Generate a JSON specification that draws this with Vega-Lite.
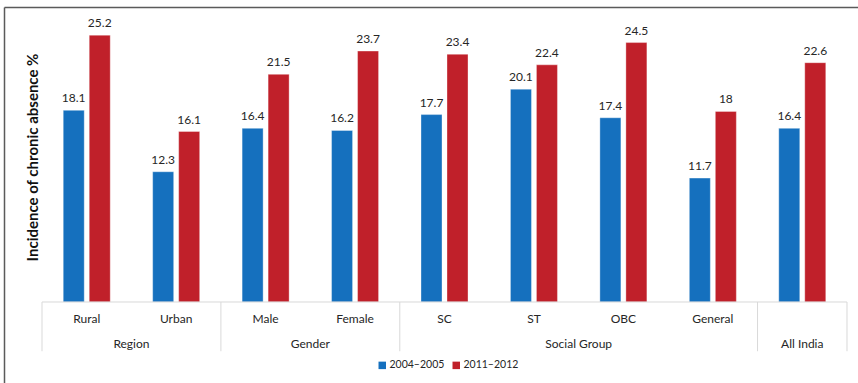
{
  "$schema": "https://vega.github.io/schema/vega-lite/v6.json",
  "autosize": {"type": "none"},
  "padding": {"left": 4, "top": 7, "right": 0, "bottom": 0},
  "width": 854,
  "height": 376,
  "background": "white",
  "config": {
    "font": "Lato",
    "view": {"stroke": null},
    "text": {"font": "Lato", "color": "#262626"}
  },
  "datasets": {
    "absence": [
      {"cat": "Rural", "group": "Region", "year": "2004–2005", "value": 18.1},
      {"cat": "Rural", "group": "Region", "year": "2011–2012", "value": 25.2},
      {"cat": "Urban", "group": "Region", "year": "2004–2005", "value": 12.3},
      {"cat": "Urban", "group": "Region", "year": "2011–2012", "value": 16.1},
      {"cat": "Male", "group": "Gender", "year": "2004–2005", "value": 16.4},
      {"cat": "Male", "group": "Gender", "year": "2011–2012", "value": 21.5},
      {"cat": "Female", "group": "Gender", "year": "2004–2005", "value": 16.2},
      {"cat": "Female", "group": "Gender", "year": "2011–2012", "value": 23.7},
      {"cat": "SC", "group": "Social Group", "year": "2004–2005", "value": 17.7},
      {"cat": "SC", "group": "Social Group", "year": "2011–2012", "value": 23.4},
      {"cat": "ST", "group": "Social Group", "year": "2004–2005", "value": 20.1},
      {"cat": "ST", "group": "Social Group", "year": "2011–2012", "value": 22.4},
      {"cat": "OBC", "group": "Social Group", "year": "2004–2005", "value": 17.4},
      {"cat": "OBC", "group": "Social Group", "year": "2011–2012", "value": 24.5},
      {"cat": "General", "group": "Social Group", "year": "2004–2005", "value": 11.7},
      {"cat": "General", "group": "Social Group", "year": "2011–2012", "value": 18},
      {"cat": "All India", "group": "All India", "year": "2004–2005", "value": 16.4},
      {"cat": "All India", "group": "All India", "year": "2011–2012", "value": 22.6}
    ],
    "groupStarts": [
      {"cat": "Rural", "group": "Region"},
      {"cat": "Male", "group": "Gender"},
      {"cat": "SC", "group": "Social Group"},
      {"cat": "All India", "group": "All India"}
    ],
    "groupLabels": [
      {"cat": "Urban", "group": "Region"},
      {"cat": "Female", "group": "Gender"},
      {"cat": "OBC", "group": "Social Group"}
    ],
    "lastGroup": [
      {"cat": "All India", "group": "All India"}
    ],
    "categorySpan": [
      {"first": "Rural", "last": "All India"}
    ]
  },
  "resolve": {"axis": {"x": "independent"}},
  "layer": [
    {
      "data": {"name": "absence"},
      "mark": {"type": "bar", "stroke": "#ffffff", "strokeOpacity": 0.35, "strokeWidth": 1},
      "encoding": {
        "x": {
          "field": "cat",
          "type": "nominal",
          "sort": null,
          "scale": {
            "domain": ["Rural", "Urban", "Male", "Female", "SC", "ST", "OBC", "General", "All India"],
            "paddingInner": 0,
            "paddingOuter": 0.274,
            "align": 0.7755
          },
          "axis": {
            "orient": "bottom",
            "offset": -81,
            "title": null,
            "labelAngle": 0,
            "ticks": false,
            "tickSize": 0,
            "domain": false,
            "grid": false,
            "labelPadding": 11,
            "labelFont": "Lato",
            "labelFontSize": 12,
            "labelColor": "#262626",
            "labelExpr": "datum.value === 'All India' ? '' : datum.label"
          }
        },
        "xOffset": {
          "field": "year",
          "type": "nominal",
          "scale": {"domain": ["2004–2005", "2011–2012"], "paddingInner": 0.192, "paddingOuter": 0.816}
        },
        "y": {
          "field": "value",
          "type": "quantitative",
          "scale": {"domain": [-7.65, 27.86], "nice": false, "zero": false},
          "axis": {
            "orient": "left",
            "title": "Incidence of chronic absence %",
            "titleFont": "Lato",
            "titleFontSize": 15,
            "titleFontWeight": "bold",
            "titleColor": "#111111",
            "titleX": 28,
            "titleY": 150,
            "titleAngle": -90,
            "titleAlign": "center",
            "titleBaseline": "middle",
            "labels": false,
            "ticks": false,
            "grid": false,
            "domain": true,
            "domainColor": "#5a5a5a",
            "domainWidth": 1.5
          }
        },
        "color": {
          "field": "year",
          "type": "nominal",
          "scale": {"domain": ["2004–2005", "2011–2012"], "range": ["#1570be", "#c0202a"]},
          "legend": {
            "title": null,
            "orient": "none",
            "legendX": 373,
            "legendY": 353,
            "padding": 0,
            "direction": "horizontal",
            "symbolType": "square",
            "symbolSize": 56,
            "symbolStrokeWidth": 0,
            "labelFont": "Lato",
            "labelFontSize": 10.5,
            "labelColor": "#262626",
            "labelOffset": 2,
            "columnPadding": 6
          }
        }
      }
    },
    {
      "data": {"name": "absence"},
      "mark": {"type": "text", "baseline": "bottom", "dy": -5, "fontSize": 12},
      "encoding": {
        "x": {"field": "cat", "type": "nominal", "axis": null},
        "xOffset": {
          "field": "year",
          "type": "nominal",
          "scale": {"domain": ["2004–2005", "2011–2012"], "paddingInner": 0.192, "paddingOuter": 0.816}
        },
        "y": {"field": "value", "type": "quantitative", "scale": {"domain": [-7.65, 27.86], "nice": false, "zero": false}},
        "text": {"field": "value", "type": "nominal"}
      }
    },
    {
      "data": {"name": "categorySpan"},
      "mark": {"type": "rule", "color": "#d9d9d9", "strokeWidth": 1},
      "encoding": {
        "x": {
          "field": "first",
          "type": "nominal",
          "bandPosition": 0,
          "axis": {
            "orient": "top",
            "title": null,
            "labels": false,
            "ticks": false,
            "grid": false,
            "domain": true,
            "domainColor": "#5a5a5a",
            "domainWidth": 1.5
          }
        },
        "x2": {"field": "last", "bandPosition": 1},
        "y": {"datum": 0, "type": "quantitative", "scale": {"domain": [-7.65, 27.86], "nice": false, "zero": false}}
      }
    },
    {
      "data": {"name": "groupStarts"},
      "mark": {"type": "rule", "color": "#d9d9d9", "strokeWidth": 1},
      "encoding": {
        "x": {"field": "cat", "type": "nominal", "bandPosition": 0, "axis": null},
        "y": {"datum": 0, "type": "quantitative", "scale": {"domain": [-7.65, 27.86], "nice": false, "zero": false}},
        "y2": {"datum": -4.65}
      }
    },
    {
      "data": {"name": "lastGroup"},
      "mark": {"type": "rule", "color": "#d9d9d9", "strokeWidth": 1},
      "encoding": {
        "x": {"field": "cat", "type": "nominal", "bandPosition": 1, "axis": null},
        "y": {"datum": 0, "type": "quantitative", "scale": {"domain": [-7.65, 27.86], "nice": false, "zero": false}},
        "y2": {"datum": -4.65}
      }
    },
    {
      "data": {"name": "groupLabels"},
      "mark": {"type": "text", "baseline": "middle", "fontSize": 12},
      "encoding": {
        "x": {"field": "cat", "type": "nominal", "bandPosition": 0, "axis": null},
        "y": {"datum": -3.95, "type": "quantitative", "scale": {"domain": [-7.65, 27.86], "nice": false, "zero": false}},
        "text": {"field": "group", "type": "nominal"}
      }
    },
    {
      "data": {"name": "lastGroup"},
      "mark": {"type": "text", "baseline": "middle", "fontSize": 12},
      "encoding": {
        "x": {"field": "cat", "type": "nominal", "bandPosition": 0.5, "axis": null},
        "y": {"datum": -3.95, "type": "quantitative", "scale": {"domain": [-7.65, 27.86], "nice": false, "zero": false}},
        "text": {"field": "group", "type": "nominal"}
      }
    }
  ]
}
